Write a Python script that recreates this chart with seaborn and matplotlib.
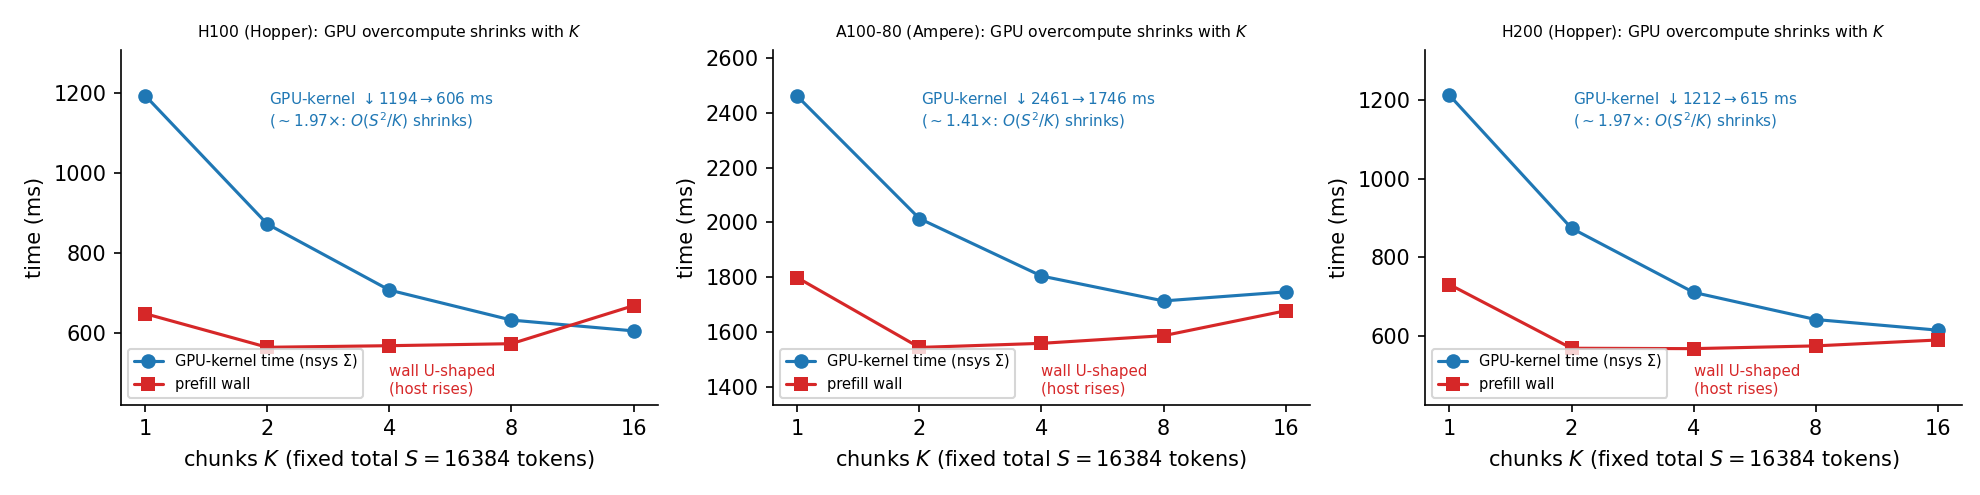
from matplotlib import pyplot as plt
import numpy as np
import pandas
import seaborn as sns

# chunk counts K (fixed total S = 16384 tokens)
chunks = [1, 2, 4, 8, 16]

# GPU-kernel time (nsys sum) and prefill wall time, ms
gpu_h100 = [1194, 873, 708, 633, 606]
wall_h100 = [649, 565, 569, 574, 669]
gpu_a100 = [2461, 2014, 1804, 1713, 1746]
wall_a100 = [1798, 1543, 1558, 1586, 1677]
gpu_h200 = [1212, 874, 711, 642, 615]
wall_h200 = [731, 569, 568, 575, 590]

titles = ["H100 (Hopper): GPU overcompute shrinks with $K$",
          "A100-80 (Ampere): GPU overcompute shrinks with $K$",
          "H200 (Hopper): GPU overcompute shrinks with $K$"]
speedups = ["1.97", "1.41", "1.97"]
ylims = [(421, 1308), (1333, 2630), (425, 1327)]

blue = "#1f77b4"
red = "#d62728"

sns.set_style("ticks", {"axes.edgecolor": "black", "text.color": "black",
                        "axes.labelcolor": "black", "xtick.color": "black",
                        "ytick.color": "black"})
plt.rcParams['font.family'] = ['DejaVu Sans']

fig, axes = plt.subplots(ncols=3, figsize=(13.2, 3.3), dpi=150)
fig.subplots_adjust(left=0.061, right=0.991, bottom=0.182, top=0.899, wspace=0.214)

panels = [(gpu_h100, wall_h100), (gpu_a100, wall_a100), (gpu_h200, wall_h200)]
for i, ax in enumerate(axes):
    gpu, wall = panels[i]
    df = pandas.DataFrame({"K": chunks, "gpu": gpu, "wall": wall})
    sns.lineplot(data=df, x="K", y="gpu", ax=ax, color=blue, marker="o", markersize=7,
                 markeredgewidth=0, linewidth=1.5, label="GPU-kernel time (nsys Σ)")
    sns.lineplot(data=df, x="K", y="wall", ax=ax, color=red, marker="s", markersize=6.5,
                 markeredgewidth=0, linewidth=1.5, label="prefill wall")
    ax.set_xscale("log", base=2)
    ax.set_xticks(chunks)
    ax.set_xticklabels([str(k) for k in chunks])
    ax.minorticks_off()
    ax.set_ylim(*ylims[i])
    ax.tick_params(labelsize=10)
    ax.set_xlabel("chunks $K$ (fixed total $S=16384$ tokens)", fontsize=10)
    ax.set_ylabel("time (ms)", fontsize=10)
    ax.set_title(titles[i], fontsize=7.5)
    ax.text(0.275, 0.885,
            "GPU-kernel $\\downarrow$%d$\\rightarrow$%d ms\n($\\sim$%s$\\times$: $O(S^2/K)$ shrinks)"
            % (gpu[0], gpu[-1], speedups[i]),
            transform=ax.transAxes, ha="left", va="top", fontsize=7.3, color=blue)
    ax.text(0.5, 0.025, "wall U-shaped\n(host rises)", transform=ax.transAxes,
            ha="left", va="bottom", fontsize=7.2, color=red)
    ax.legend(loc="lower left", fontsize=7)
    sns.despine(ax=ax)

plt.savefig("out.png", dpi=150)
